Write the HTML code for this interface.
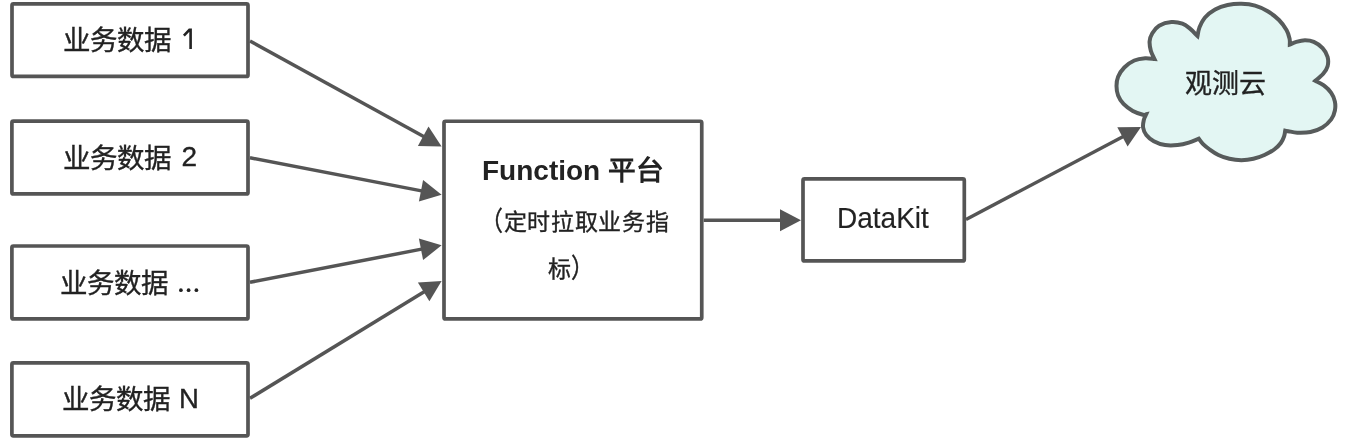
<!DOCTYPE html>
<html lang="zh-CN"><head><meta charset="utf-8">
<style>
html,body{margin:0;padding:0;background:#fff;}
body{width:1347px;height:439px;position:relative;overflow:hidden;font-family:"Liberation Sans",sans-serif;color:#222;}
svg{position:absolute;left:0;top:0;}
.t{position:absolute;white-space:nowrap;line-height:1;will-change:transform;-webkit-text-stroke:0.35px #222;}
.s{position:relative;top:-1px;}
</style></head><body>
<svg width="1347" height="439" viewBox="0 0 1347 439">
<g fill="#fff" stroke="#555" stroke-width="3.7"><rect x="12.00" y="3.90" width="236.00" height="72.50" rx="1.5"/><rect x="11.90" y="121.20" width="236.10" height="72.70" rx="1.5"/><rect x="11.90" y="246.00" width="236.10" height="72.90" rx="1.5"/><rect x="11.90" y="362.90" width="236.10" height="72.90" rx="1.5"/><rect x="444.00" y="121.25" width="257.75" height="197.65" rx="1.5"/><rect x="803.00" y="178.90" width="161.30" height="82.05" rx="1.5"/></g>
<path d="M1154.5 59.0 C1153.9 57.7 1151.7 53.9 1150.9 51.0 C1150.1 48.1 1149.4 44.4 1149.6 41.4 C1149.8 38.4 1150.7 35.8 1152.3 33.2 C1153.9 30.6 1155.9 27.6 1159.1 25.7 C1162.3 23.8 1167.5 22.3 1171.4 22.0 C1175.3 21.7 1179.2 22.5 1182.4 23.7 C1185.6 24.9 1188.1 27.1 1190.6 29.1 C1193.1 31.2 1196.3 34.9 1197.5 36.0 C1197.8 34.6 1198.2 30.7 1199.4 27.6 C1200.7 24.5 1202.4 20.5 1205.0 17.5 C1207.6 14.5 1211.3 11.5 1215.1 9.4 C1218.9 7.3 1223.2 5.9 1227.6 5.0 C1232.0 4.1 1236.8 3.7 1241.4 3.8 C1246.0 3.9 1250.7 4.3 1255.1 5.6 C1259.5 6.8 1263.7 8.9 1267.7 11.3 C1271.7 13.7 1275.9 16.9 1279.0 20.0 C1282.1 23.1 1284.7 27.0 1286.5 30.1 C1288.3 33.2 1289.0 36.4 1289.6 38.8 C1290.1 41.2 1289.8 43.5 1289.8 44.5 C1290.9 44.1 1293.8 42.6 1296.3 41.9 C1298.8 41.2 1302.1 40.3 1305.0 40.3 C1307.9 40.3 1310.9 40.6 1313.8 41.9 C1316.7 43.2 1320.3 45.6 1322.6 48.1 C1324.9 50.6 1326.8 53.9 1327.6 56.9 C1328.4 59.9 1328.3 63.5 1327.6 66.3 C1326.9 69.1 1325.2 71.4 1323.2 73.8 C1321.2 76.2 1316.6 79.6 1315.3 80.8 C1316.7 81.6 1321.1 83.4 1323.8 85.4 C1326.5 87.4 1329.3 90.1 1331.2 92.8 C1333.1 95.5 1334.3 98.6 1334.9 101.6 C1335.5 104.5 1335.5 107.5 1334.9 110.5 C1334.3 113.5 1333.3 116.6 1331.2 119.4 C1329.1 122.2 1325.9 125.4 1322.4 127.5 C1319.0 129.6 1314.7 131.1 1310.5 132.0 C1306.3 132.9 1300.9 132.8 1297.2 132.7 C1293.5 132.6 1290.3 131.5 1288.3 131.2 C1286.3 130.9 1285.7 130.8 1285.2 130.7 C1285.0 131.6 1284.8 134.3 1284.1 136.4 C1283.4 138.5 1282.4 140.8 1280.8 143.0 C1279.2 145.2 1276.9 147.5 1274.2 149.5 C1271.5 151.5 1267.9 153.4 1264.4 155.0 C1260.9 156.6 1257.2 157.9 1253.4 158.8 C1249.6 159.7 1245.4 160.2 1241.4 160.2 C1237.4 160.2 1233.2 159.7 1229.4 158.8 C1225.6 157.9 1221.7 156.6 1218.4 155.0 C1215.1 153.4 1212.2 151.3 1209.7 149.5 C1207.2 147.7 1204.9 145.9 1203.1 144.1 C1201.3 142.3 1199.5 139.6 1198.8 138.7 C1197.1 139.3 1192.3 141.5 1188.8 142.6 C1185.3 143.7 1181.5 144.7 1177.6 145.1 C1173.6 145.5 1169.1 145.7 1165.1 145.1 C1161.1 144.5 1156.9 143.0 1153.8 141.3 C1150.7 139.6 1148.1 137.4 1146.3 135.1 C1144.5 132.8 1143.5 130.0 1143.1 127.5 C1142.7 125.0 1143.3 122.2 1143.8 120.0 C1144.3 117.8 1145.8 115.2 1146.2 114.3 C1145.7 114.4 1145.1 115.3 1142.9 114.7 C1140.7 114.1 1136.0 112.7 1132.8 110.9 C1129.6 109.1 1126.0 106.5 1123.5 103.9 C1121.0 101.3 1119.3 98.4 1118.1 95.4 C1116.9 92.4 1116.5 89.2 1116.5 86.1 C1116.5 83.0 1116.8 79.9 1118.1 76.8 C1119.4 73.7 1121.6 70.2 1124.3 67.5 C1127.0 64.8 1130.8 62.0 1134.3 60.5 C1137.8 59.0 1141.8 58.5 1145.2 58.2 C1148.6 58.0 1153.0 58.9 1154.5 59.0 Z" fill="#e3f6f3" stroke="#575b5b" stroke-width="4" stroke-linejoin="miter"/>
<g stroke="#555" stroke-width="3.5" fill="none"><line x1="250.0" y1="41.0" x2="425.0" y2="137.2"/><line x1="250.0" y1="157.8" x2="422.9" y2="191.1"/><line x1="250.0" y1="282.3" x2="422.9" y2="248.9"/><line x1="250.0" y1="398.3" x2="425.4" y2="290.9"/><line x1="703.7" y1="220.3" x2="782.0" y2="220.3"/><line x1="966.0" y1="219.5" x2="1124.2" y2="136.0"/></g>
<g fill="#555" stroke="none"><polygon points="441.6,146.4 417.9,145.9 428.5,126.6"/><polygon points="441.6,194.7 418.9,201.5 423.1,179.9"/><polygon points="441.6,245.3 423.1,260.1 418.9,238.5"/><polygon points="441.6,281.0 429.4,301.3 417.9,282.6"/><polygon points="801.0,220.3 780.0,231.3 780.0,209.3"/><polygon points="1141.0,127.1 1127.6,146.6 1117.3,127.2"/></g>
<g fill="#222"><circle cx="180.9" cy="290.2" r="1.85"/><circle cx="188.6" cy="290.2" r="1.85"/><circle cx="196.4" cy="290.2" r="1.85"/></g>
<path d="M183.9 35.6 L189.4 29.9 L190.6 29.9 L190.6 49.1" fill="none" stroke="#222" stroke-width="2.6" stroke-linejoin="miter"/>
</svg>
<div class="t" id="b1" style="left:63.0px;top:26.9px;font-size:27.5px;">业务数据</div>
<div class="t" id="b2" style="left:63.0px;top:145.2px;font-size:27.5px;">业务数据<span class="s" style="margin-left:10.4px;font-size:28px;top:-1.6px">2</span></div>
<div class="t" id="b3" style="left:59.5px;top:270.4px;font-size:27.5px;">业务数据</div>
<div class="t" id="b4" style="left:61.7px;top:386.0px;font-size:27.5px;">业务数据<span class="s" style="margin-left:9px;top:-1.4px">N</span></div>
<div class="t" id="f1" style="left:482.4px;top:157.1px;-webkit-text-stroke:0;font-size:27.7px;font-weight:bold;"><span style="font-size:28px">Function</span> 平台</div>
<div class="t" id="f2" style="left:479.7px;top:211px;font-size:23px;letter-spacing:0.65px"><span style="display:inline-block;transform:translateY(-1.25px) scaleY(1.16);transform-origin:50% 10px">（</span>定时拉取业务指</div>
<div class="t" id="f3" style="left:548.3px;top:258.2px;font-size:23px;">标<span style="display:inline-block;transform:translateY(-1.25px) scaleY(1.16);transform-origin:50% 10px">）</span></div>
<div class="t" id="dk" style="-webkit-text-stroke:0.15px #222;transform:scaleY(1.05);transform-origin:0 4px;left:836.9px;top:204.2px;font-size:28px;">DataKit</div>
<div class="t" id="gc" style="left:1184.8px;top:71.0px;font-size:27px;">观测云</div>

</body></html>
